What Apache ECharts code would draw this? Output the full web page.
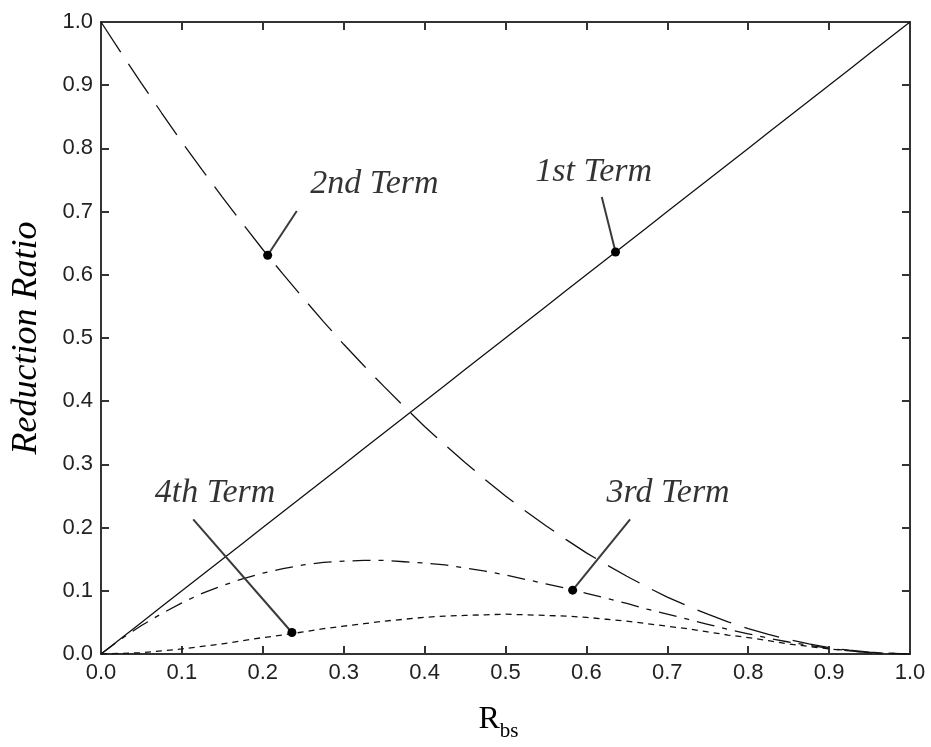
<!DOCTYPE html>
<html>
<head>
<meta charset="utf-8">
<title>Reduction Ratio vs Rbs</title>
<script src="https://cdn.jsdelivr.net/npm/echarts@6/dist/echarts.min.js"></script>
<style>
  html, body { margin: 0; padding: 0; background: #fff; }
  #chart { width: 931px; height: 747px; }
</style>
</head>
<body>
<div id="chart"></div>
<script>
// Sample points along R_bs
const rbs = [0.000, 0.025, 0.050, 0.075, 0.100, 0.125, 0.150, 0.175, 0.200, 0.225,
             0.250, 0.275, 0.300, 0.325, 0.350, 0.375, 0.400, 0.425, 0.450, 0.475,
             0.500, 0.525, 0.550, 0.575, 0.600, 0.625, 0.650, 0.675, 0.700, 0.725,
             0.750, 0.775, 0.800, 0.825, 0.850, 0.875, 0.900, 0.925, 0.950, 0.975, 1.000];

// Reduction ratio of each term at those points
const term1 = [0.000, 0.025, 0.050, 0.075, 0.100, 0.125, 0.150, 0.175, 0.200, 0.225,
               0.250, 0.275, 0.300, 0.325, 0.350, 0.375, 0.400, 0.425, 0.450, 0.475,
               0.500, 0.525, 0.550, 0.575, 0.600, 0.625, 0.650, 0.675, 0.700, 0.725,
               0.750, 0.775, 0.800, 0.825, 0.850, 0.875, 0.900, 0.925, 0.950, 0.975, 1.000];
const term2 = [1.000, 0.951, 0.903, 0.856, 0.810, 0.766, 0.723, 0.681, 0.640, 0.601,
               0.563, 0.526, 0.490, 0.456, 0.423, 0.391, 0.360, 0.331, 0.303, 0.276,
               0.250, 0.226, 0.203, 0.181, 0.160, 0.141, 0.123, 0.106, 0.090, 0.076,
               0.063, 0.051, 0.040, 0.031, 0.023, 0.016, 0.010, 0.006, 0.003, 0.001, 0.000];
const term3 = [0.000, 0.024, 0.045, 0.064, 0.081, 0.096, 0.108, 0.119, 0.128, 0.135,
               0.141, 0.145, 0.147, 0.148, 0.148, 0.146, 0.144, 0.141, 0.136, 0.131,
               0.125, 0.118, 0.111, 0.104, 0.096, 0.088, 0.080, 0.071, 0.063, 0.055,
               0.047, 0.039, 0.032, 0.025, 0.019, 0.014, 0.009, 0.005, 0.002, 0.001, 0.000];
const term4 = [0.000, 0.001, 0.002, 0.005, 0.008, 0.012, 0.016, 0.021, 0.026, 0.030,
               0.035, 0.040, 0.044, 0.048, 0.052, 0.055, 0.058, 0.060, 0.061, 0.062,
               0.063, 0.062, 0.061, 0.060, 0.058, 0.055, 0.052, 0.048, 0.044, 0.040,
               0.035, 0.030, 0.026, 0.021, 0.016, 0.012, 0.008, 0.005, 0.002, 0.001, 0.000];

// Callouts: text, point on the curve, end of the leader, text anchor (data coordinates)
const calloutNames   = ['1st Term', '2nd Term', '3rd Term', '4th Term'];
const calloutPoints  = [[0.636, 0.636], [0.206, 0.631], [0.583, 0.101], [0.236, 0.034]];
const calloutLeaders = [[0.619, 0.723], [0.242, 0.701], [0.654, 0.213], [0.114, 0.213]];
const calloutAnchors = [[0.609, 0.762], [0.338, 0.743], [0.701, 0.255], [0.141, 0.254]];

// Axis ticks
const axisMin = 0, axisMax = 1, axisStep = 0.1;

const pairs = ys => rbs.map((x, i) => [x, ys[i]]);

const ink = '#111';
const frame = '#333';
const serif = '"Liberation Serif", "DejaVu Serif", serif';
const sans = '"Liberation Sans", Arial, sans-serif';

function curve(name, ys, dash, width) {
  return {
    name, type: 'line', data: pairs(ys),
    showSymbol: false, symbol: 'none',
    smooth: false,
    lineStyle: { color: ink, width: width, type: dash },
    z: 2, silent: true
  };
}

const leaderSeries = calloutNames.map((n, i) => ({
  name: n + ' leader', type: 'line',
  data: [
    { value: calloutLeaders[i], symbol: 'none' },
    { value: calloutPoints[i], symbol: 'circle', symbolSize: 9 }
  ],
  lineStyle: { color: '#3a3a3a', width: 2 },
  itemStyle: { color: '#000' },
  z: 4, silent: true
}));

const textSeries = {
  name: 'callout text', type: 'scatter',
  data: calloutAnchors.map((p, i) => ({ value: p, name: calloutNames[i] })),
  symbolSize: 1,
  itemStyle: { color: 'rgba(0,0,0,0)' },
  label: {
    show: true, position: 'inside',
    formatter: p => p.name,
    fontFamily: serif, fontStyle: 'italic', fontSize: 34,
    color: '#000'
  },
  z: 5, silent: true
};

function valueAxis(extra) {
  return Object.assign({
    type: 'value', min: axisMin, max: axisMax, interval: axisStep,
    axisLine: { show: true, onZero: false, lineStyle: { color: frame, width: 2 } },
    axisTick: { show: true, inside: true, length: 8, lineStyle: { color: frame, width: 2 } },
    splitLine: { show: false },
    axisLabel: {
      show: true, margin: 8, color: '#222', fontFamily: sans, fontSize: 22,
      formatter: v => v.toFixed(1)
    }
  }, extra);
}

const option = {
  animation: false,
  backgroundColor: '#fff',
  grid: { left: 101, right: 21, top: 22, bottom: 90, containLabel: false },
  xAxis: [
    valueAxis({
      position: 'bottom',
      name: '{r|R}{s|bs}',
      nameLocation: 'middle', nameGap: 46,
      nameTextStyle: {
        padding: [0, 14, 0, 0],
        rich: {
          r: { fontFamily: serif, fontSize: 32, color: '#000', lineHeight: 36, verticalAlign: 'bottom' },
          s: { fontFamily: serif, fontSize: 21, color: '#000', lineHeight: 36, verticalAlign: 'bottom', padding: [0, 0, -6, 0] }
        }
      }
    }),
    valueAxis({ position: 'top', axisLabel: { show: false } })
  ],
  yAxis: [
    valueAxis({
      position: 'left',
      name: 'Reduction Ratio',
      nameLocation: 'middle', nameGap: 56,
      nameTextStyle: { fontFamily: serif, fontStyle: 'italic', fontSize: 36, color: '#000' }
    }),
    valueAxis({ position: 'right', axisLabel: { show: false } })
  ],
  series: [
    curve('1st Term', term1, 'solid', 1.3),
    curve('2nd Term', term2, [36, 14], 1.3),
    curve('3rd Term', term3, [18, 8, 5, 8], 1.3),
    curve('4th Term', term4, [6, 5], 1.3),
    ...leaderSeries,
    textSeries
  ]
};

const chart = echarts.init(document.getElementById('chart'), null, { renderer: 'canvas' });
chart.setOption(option);
</script>
</body>
</html>
